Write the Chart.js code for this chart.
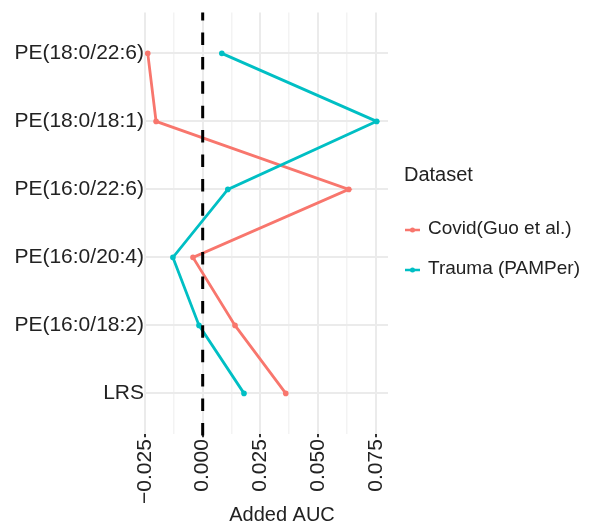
<!DOCTYPE html>
<html>
<head>
<meta charset="utf-8">
<script src="https://cdn.jsdelivr.net/npm/chart.js@4/dist/chart.umd.min.js"></script>
<style>
  html, body { margin: 0; padding: 0; background: #fff; }
  #wrap { width: 589px; height: 525px; position: relative; }
</style>
</head>
<body>
<div id="wrap"><canvas id="aucChart"></canvas></div>
<script>
// Lipídios (de cima para baixo) e AUC adicionada por conjunto de dados
const categories = ['PE(18:0/22:6)', 'PE(18:0/18:1)', 'PE(16:0/22:6)', 'PE(16:0/20:4)', 'PE(16:0/18:2)', 'LRS'];
const covidAUC = [-0.0238, -0.0202, 0.0633, -0.0042, 0.0140, 0.0360];
const traumaAUC = [0.0083, 0.0754, 0.0109, -0.0129, -0.0016, 0.0179];
const seriesNames = ['Covid(Guo et al.)', 'Trauma (PAMPer)'];
const seriesColors = ['#F8766D', '#00BFC4'];
const xTicks = [-0.025, 0, 0.025, 0.05, 0.075];

const FONT = "'Liberation Sans', Arial, sans-serif";
const TEXT = '#222';

function isMajor(v) {
    return xTicks.some(t => Math.abs(t - v) < 1e-6);
}

function fmtTick(v) {
    return (Math.round(v * 1000) / 1000).toFixed(3).replace('-', '\u2212');
}

function toPoints(values) {
    return values.map((v, i) => ({ x: v, y: i }));
}

// linha tracejada vertical em zero
const zeroLine = {
    id: 'zeroLine',
    afterDatasetsDraw(chart) {
        const { ctx, chartArea, scales } = chart;
        const x = scales.x.getPixelForValue(0);
        ctx.save();
        ctx.strokeStyle = '#000';
        ctx.lineWidth = 3;
        ctx.setLineDash([12.5, 11.9]);
        ctx.lineDashOffset = 4.5;
        ctx.beginPath();
        ctx.moveTo(x, chartArea.top);
        ctx.lineTo(x, chartArea.bottom + 3);
        ctx.stroke();
        ctx.restore();
    }
};

// título do eixo X e legenda "Dataset" à direita do painel
const annotations = {
    id: 'annotations',
    afterDraw(chart) {
        const { ctx, chartArea } = chart;
        ctx.save();
        ctx.fillStyle = TEXT;
        ctx.textBaseline = 'middle';

        ctx.font = '20px ' + FONT;
        ctx.textAlign = 'center';
        ctx.fillText('Added AUC', (chartArea.left + chartArea.right) / 2 + 16, 515);

        const lx = chartArea.right + 16;
        ctx.textAlign = 'left';
        ctx.fillText('Dataset', lx, 175);

        ctx.font = '19px ' + FONT;
        chart.data.datasets.forEach((ds, i) => {
            const y = 229 + i * 40;
            ctx.strokeStyle = ds.borderColor;
            ctx.fillStyle = ds.borderColor;
            ctx.lineWidth = 2.5;
            ctx.beginPath();
            ctx.moveTo(lx + 1, y + 1);
            ctx.lineTo(lx + 16, y + 1);
            ctx.stroke();
            ctx.beginPath();
            ctx.arc(lx + 8.5, y + 1, 2.5, 0, Math.PI * 2);
            ctx.fill();
            ctx.fillStyle = TEXT;
            ctx.fillText(ds.label, lx + 24, y);
        });
        ctx.restore();
    }
};

const ctx = document.getElementById('aucChart').getContext('2d');
new Chart(ctx, {
    type: 'scatter',
    data: {
        datasets: [
            {
                label: seriesNames[0],
                data: toPoints(covidAUC),
                showLine: true,
                borderColor: seriesColors[0],
                backgroundColor: seriesColors[0],
                borderWidth: 2.8,
                pointRadius: 2.8,
                pointBorderWidth: 0,
                clip: false,
                order: 2
            },
            {
                label: seriesNames[1],
                data: toPoints(traumaAUC),
                showLine: true,
                borderColor: seriesColors[1],
                backgroundColor: seriesColors[1],
                borderWidth: 2.8,
                pointRadius: 2.8,
                pointBorderWidth: 0,
                clip: false,
                order: 1
            }
        ]
    },
    options: {
        responsive: true,
        maintainAspectRatio: false,
        animation: false,
        layout: { padding: { top: 10, right: 201, bottom: 19, left: 0 } },
        scales: {
            x: {
                type: 'linear',
                min: -0.02543,
                max: 0.0803,
                border: { display: false },
                grid: {
                    color: c => isMajor(c.tick.value) ? '#ebebeb' : '#f3f3f3',
                    lineWidth: c => isMajor(c.tick.value) ? 2 : 1.5,
                    tickColor: c => isMajor(c.tick.value) ? '#333' : 'rgba(0,0,0,0)',
                    tickLength: 3
                },
                ticks: {
                    stepSize: 0.0125,
                    includeBounds: false,
                    autoSkip: false,
                    minRotation: 90,
                    maxRotation: 90,
                    padding: 2,
                    color: TEXT,
                    font: { family: FONT, size: 21 },
                    callback: v => isMajor(v) ? fmtTick(v) : ''
                }
            },
            y: {
                type: 'linear',
                min: -0.6,
                max: 5.6,
                reverse: true,
                border: { display: false },
                afterFit: scale => { scale.width = 144; },
                grid: {
                    color: '#ebebeb',
                    lineWidth: 2,
                    drawTicks: false
                },
                ticks: {
                    stepSize: 1,
                    includeBounds: false,
                    padding: 0,
                    color: TEXT,
                    font: { family: FONT, size: 21 },
                    callback: v => categories[v] !== undefined ? categories[v] : ''
                }
            }
        },
        plugins: {
            tooltip: { enabled: false },
            legend: { display: false }
        }
    },
    plugins: [zeroLine, annotations]
});
</script>
</body>
</html>
